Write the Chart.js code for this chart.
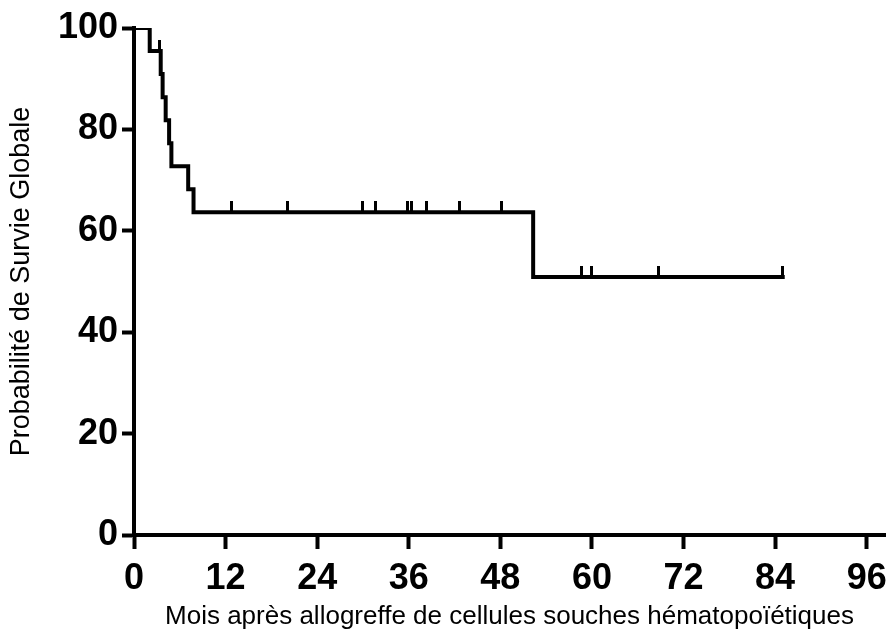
<!DOCTYPE html>
<html>
<head>
<meta charset="utf-8">
<script src="https://cdn.jsdelivr.net/npm/chart.js@4.4.1/dist/chart.umd.min.js"></script>
<style>
  html, body { margin: 0; padding: 0; background: #ffffff; }
  #wrap { width: 892px; height: 641px; position: relative; }
</style>
</head>
<body>
<div id="wrap"><canvas id="c"></canvas></div>
<script>
// ---- Data (Kaplan-Meier overall survival) ----
const eventMonths   = [0, 2.06, 3.5, 3.75, 4.15, 4.6, 4.9, 7.1, 7.8, 52.3, 85.0];
const eventSurvival = [100, 95.45, 90.91, 86.36, 81.82, 77.27, 72.73, 68.18, 63.64, 50.91, 50.91];
const censorMonths   = [3.36, 12.8, 20.1, 30.0, 31.7, 35.9, 36.3, 38.35, 42.7, 48.2, 58.6, 59.9, 68.7, 85.0];
const censorSurvival = [95.45, 63.64, 63.64, 63.64, 63.64, 63.64, 63.64, 63.64, 63.64, 63.64, 50.91, 50.91, 50.91, 50.91];
const xTicks = [0, 12, 24, 36, 48, 60, 72, 84, 96];
const yTicks = [0, 20, 40, 60, 80, 100];
const xTitle = 'Mois après allogreffe de cellules souches hématopoïétiques';
const yTitle = 'Probabilité de Survie Globale';

Chart.defaults.font.family = "'Liberation Sans', Arial, Helvetica, sans-serif";
Chart.defaults.color = '#000000';

// censor marker: short vertical bar rising above the curve
const censorMark = document.createElement('canvas');
censorMark.width = 3;
censorMark.height = 22;
(function () {
  const g = censorMark.getContext('2d');
  g.fillStyle = '#000000';
  g.fillRect(0, 0, 3, 12);
})();

const kmData = eventMonths.map((m, i) => ({ x: m, y: eventSurvival[i] }));
const censorData = censorMonths.map((m, i) => ({ x: m, y: censorSurvival[i] }));

new Chart(document.getElementById('c'), {
  type: 'line',
  data: {
    datasets: [
      {
        data: kmData,
        stepped: 'before',
        borderColor: '#000000',
        borderWidth: 4,
        pointRadius: 0,
        fill: false,
        borderCapStyle: 'square',
        borderJoinStyle: 'miter'
      },
      {
        data: censorData,
        showLine: false,
        pointStyle: censorMark,
        pointRadius: 6,
        borderColor: '#000000',
        backgroundColor: '#000000'
      }
    ]
  },
  options: {
    responsive: true,
    maintainAspectRatio: false,
    animation: false,
    events: [],
    layout: { padding: { left: 0, top: 28, right: 0, bottom: 0 } },
    plugins: { legend: { display: false }, tooltip: { enabled: false } },
    scales: {
      x: {
        type: 'linear',
        min: 0,
        max: 98.4,
        afterFit: s => { s.height = 106; s.paddingLeft = 0; s.paddingRight = 0; },
        afterBuildTicks: s => { s.ticks = xTicks.map(v => ({ value: v })); },
        grid: {
          display: true,
          drawOnChartArea: false,
          drawTicks: true,
          tickLength: 14,
          tickWidth: 4,
          tickColor: '#000000'
        },
        border: { display: true, color: '#000000', width: 4 },
        ticks: {
          color: '#000000',
          padding: 8,
          maxRotation: 0,
          autoSkip: false,
          font: { size: 36, weight: 'bold' }
        },
        title: {
          display: true,
          text: xTitle,
          color: '#000000',
          font: { size: 26, weight: 'normal', lineHeight: 1 },
          padding: { top: 0, bottom: 11 }
        }
      },
      y: {
        min: 0,
        max: 100,
        afterFit: s => { s.width = 134; s.paddingTop = 0; s.paddingBottom = 0; },
        afterBuildTicks: s => { s.ticks = yTicks.map(v => ({ value: v })); },
        grid: {
          display: true,
          drawOnChartArea: false,
          drawTicks: true,
          tickLength: 12,
          tickWidth: 4,
          tickColor: '#000000'
        },
        border: { display: true, color: '#000000', width: 4 },
        ticks: {
          color: '#000000',
          padding: 4,
          autoSkip: false,
          font: { size: 36, weight: 'bold' }
        },
        title: {
          display: true,
          text: yTitle,
          color: '#000000',
          font: { size: 27, weight: 'normal', lineHeight: 1 },
          padding: { top: 8, bottom: 0 }
        }
      }
    }
  }
});
</script>
</body>
</html>
